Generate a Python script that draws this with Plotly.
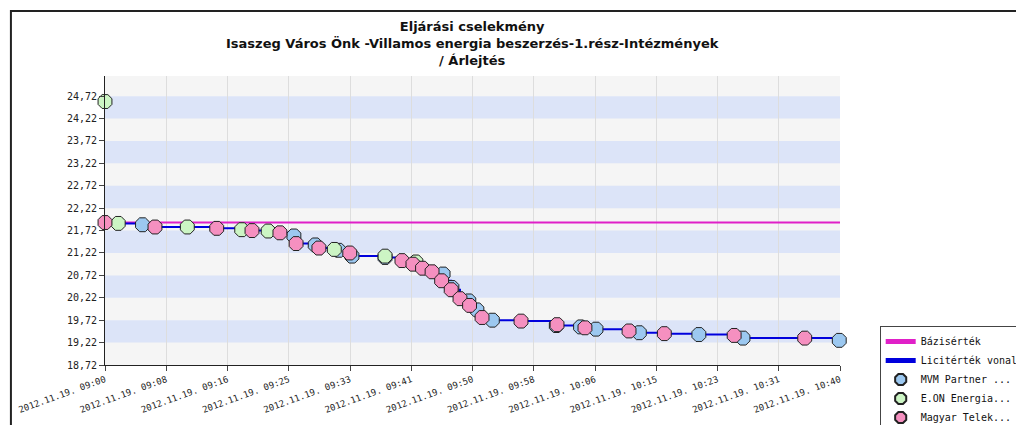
import plotly.graph_objects as go

tick_labels = ["2012.11.19. 09:00","2012.11.19. 09:08","2012.11.19. 09:16","2012.11.19. 09:25",
               "2012.11.19. 09:33","2012.11.19. 09:41","2012.11.19. 09:50","2012.11.19. 09:58",
               "2012.11.19. 10:06","2012.11.19. 10:15","2012.11.19. 10:23","2012.11.19. 10:31",
               "2012.11.19. 10:40"]
tick_pos = [i * 100 / 12 for i in range(13)]
y_ticks = [18.72, 19.22, 19.72, 20.22, 20.72, 21.22, 21.72, 22.22, 22.72, 23.22, 23.72, 24.22, 24.72]
base_value = 21.9

# minutes after 09:00
mvm_t = [5.1, 25.7, 28.6, 31.8, 33.6, 38.1, 46.0, 47.2, 49.5, 50.6, 52.7, 61.4, 64.7, 66.8, 72.7, 80.8, 86.8, 99.9]
mvm_v = [21.85, 21.6, 21.4, 21.28, 21.15, 21.12, 20.75, 20.45, 20.15, 19.95, 19.72, 19.6, 19.57, 19.52, 19.44, 19.4, 19.32, 19.27]
eon_t = [0.0, 1.8, 11.2, 18.6, 22.2, 31.2, 38.1, 42.3]
eon_v = [24.6, 21.88, 21.8, 21.74, 21.71, 21.3, 21.15, 21.02]
mag_t = [0.0, 6.8, 15.2, 20.0, 23.8, 26.0, 29.1, 33.3, 40.4, 41.9, 43.2, 44.5, 45.8, 47.1, 48.3, 49.6, 51.3, 56.6, 61.5, 65.3, 71.3, 76.1, 85.6, 95.2]
mag_v = [21.9, 21.8, 21.77, 21.72, 21.67, 21.43, 21.33, 21.22, 21.05, 20.97, 20.88, 20.8, 20.6, 20.4, 20.2, 20.05, 19.78, 19.7, 19.62, 19.55, 19.48, 19.42, 19.38, 19.32]

bids = sorted([(t, v) for t, v in zip(mvm_t + eon_t + mag_t, mvm_v + eon_v + mag_v) if v <= base_value])
line_t, line_v, cur = [], [], None
for t, v in bids:
    cur = v if cur is None else min(cur, v)
    line_t.append(t); line_v.append(cur)

fig = go.Figure()
fig.add_trace(go.Scatter(x=[0, 100], y=[base_value, base_value], mode="lines",
                         line=dict(color="#e020c8", width=2), name="Bázisérték"))
fig.add_trace(go.Scatter(x=line_t, y=line_v, mode="lines", line=dict(color="#0000dd", width=2, shape="hv"),
                         name="Licitérték vonal"))
mk = dict(symbol="octagon", size=15, line=dict(color="#222", width=1))
fig.add_trace(go.Scatter(x=mvm_t, y=mvm_v, mode="markers", marker=dict(color="#9cc8f0", **mk), name="MVM Partner ...", cliponaxis=False))
fig.add_trace(go.Scatter(x=eon_t, y=eon_v, mode="markers", marker=dict(color="#ccf5c4", **mk), name="E.ON Energia...", cliponaxis=False))
fig.add_trace(go.Scatter(x=mag_t, y=mag_v, mode="markers", marker=dict(color="#f590c0", **mk), name="Magyar Telek...", cliponaxis=False))

shapes = []
for i in range(1, 12, 2):
    shapes.append(dict(type="rect", xref="x domain", yref="y", x0=0, x1=1, y0=y_ticks[i], y1=y_ticks[i + 1],
                       fillcolor="#dce4f8", line_width=0, layer="below"))
shapes.append(dict(type="rect", xref="paper", yref="paper", x0=-0.128, x1=1.252, y0=-0.218, y1=1.225,
                   line=dict(color="#222", width=2), fillcolor="rgba(0,0,0,0)"))

fig.update_layout(
    width=1024, height=425, margin=dict(l=97, r=192, t=68, b=68, autoexpand=False),
    paper_bgcolor="white", plot_bgcolor="#f5f5f5",
    annotations=[dict(text="<b>Eljárási cselekmény<br>Isaszeg Város Önk -Villamos energia beszerzés-1.rész-Intézmények<br>/ Árlejtés</b>",
                      xref="paper", yref="paper", x=0.5, y=1.205, xanchor="center", yanchor="top", showarrow=False,
                      font=dict(family="DejaVu Sans", size=13, color="#111"))],
    xaxis=dict(range=[0, 100], tickvals=tick_pos, ticktext=tick_labels, tickangle=-20, automargin=False,
               showgrid=True, gridcolor="#dddddd", zeroline=False, ticks="outside", ticklen=5,
               showline=True, linecolor="#222", tickfont=dict(family="DejaVu Sans Mono", size=9, color="#222")),
    yaxis=dict(range=[18.72, 25.17], tickvals=y_ticks, ticktext=[f"{v:.2f}".replace(".", ",") for v in y_ticks],
               automargin=False, showgrid=False, zeroline=False, ticks="outside", ticklen=5, showline=True, linecolor="#222",
               tickfont=dict(family="DejaVu Sans Mono", size=10, color="#222")),
    legend=dict(x=1.054, y=0.135, xanchor="left", yanchor="top", bgcolor="white", bordercolor="#444", borderwidth=1,
                font=dict(family="DejaVu Sans Mono", size=10, color="#111"), tracegroupgap=0, itemsizing="constant"),
    shapes=shapes, showlegend=True,
)
fig.write_html("out.html")
